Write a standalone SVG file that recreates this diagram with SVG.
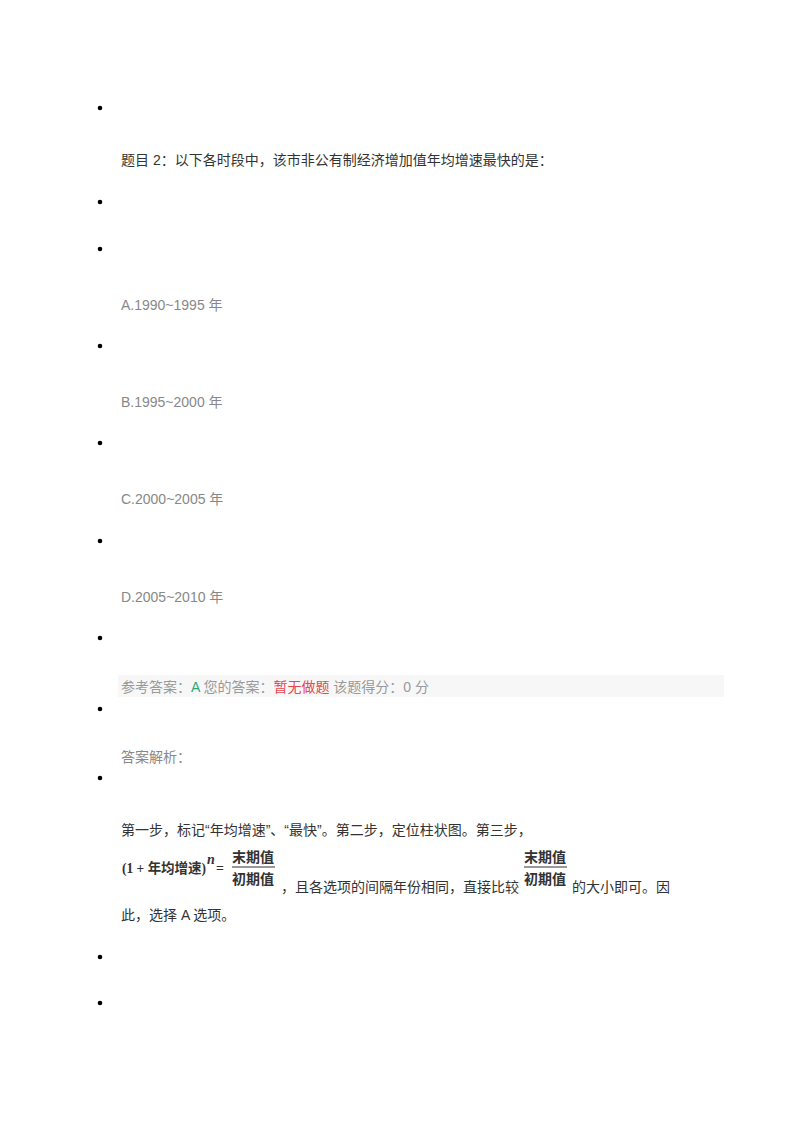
<svg xmlns="http://www.w3.org/2000/svg" width="800" height="1130" viewBox="0 0 800 1130">
<style>
.t{font-family:"Liberation Sans","Noto Sans CJK SC",sans-serif;font-size:14px;fill:#333}
.g{fill:#888}
.f{font-family:"Liberation Serif","Noto Sans CJK SC",serif;font-size:14px;fill:#333;font-weight:bold}
</style>
<rect width="800" height="1130" fill="#fff"/>
<g fill="#000">
<circle cx="100" cy="108" r="2.3"/><circle cx="100" cy="202" r="2.3"/><circle cx="100" cy="249" r="2.3"/>
<circle cx="100" cy="346" r="2.3"/><circle cx="100" cy="443" r="2.3"/><circle cx="100" cy="541" r="2.3"/>
<circle cx="100" cy="638" r="2.3"/><circle cx="100" cy="709" r="2.3"/><circle cx="100" cy="778" r="2.3"/>
<circle cx="100" cy="957" r="2.3"/><circle cx="100" cy="1003" r="2.3"/>
</g>
<text class="t" x="121" y="165" fill="#444">题目 2：以下各时段中，该市非公有制经济增加值年均增速最快的是：</text>
<text class="t g" x="121" y="310">A.1990~1995 年</text>
<text class="t g" x="121" y="407">B.1995~2000 年</text>
<text class="t g" x="121" y="504">C.2000~2005 年</text>
<text class="t g" x="121" y="602">D.2005~2010 年</text>
<rect x="118" y="675" width="606" height="22" fill="#f7f7f7"/>
<text class="t" x="121" y="692"><tspan fill="#999">参考答案：</tspan><tspan fill="#2aa876">A</tspan><tspan fill="#999"> 您的答案：</tspan><tspan fill="#e5484d">暂无做题</tspan><tspan fill="#999">  该题得分：0 分</tspan></text>
<text class="t g" x="121" y="762">答案解析：</text>
<text class="t" x="121" y="835">第一步，标记“年均增速”、“最快”。第二步，定位柱状图。第三步，</text>
<text class="f" x="122" y="873" textLength="84" lengthAdjust="spacingAndGlyphs">(1 + 年均增速)</text>
<text class="f" x="207" y="864" font-size="8" font-style="italic">n</text>
<text class="f" x="216" y="873">=</text>
<text class="f" x="232" y="862" font-size="13">末期值</text>
<line x1="232" y1="867" x2="275" y2="867" stroke="#333" stroke-width="1"/>
<text class="f" x="232" y="884" font-size="13">初期值</text>
<text class="t" x="281" y="892">，且各选项的间隔年份相同，直接比较</text>
<text class="f" x="524" y="862" font-size="13">末期值</text>
<line x1="524" y1="867" x2="567" y2="867" stroke="#333" stroke-width="1"/>
<text class="f" x="524" y="884" font-size="13">初期值</text>
<text class="t" x="572" y="892">的大小即可。因</text>
<text class="t" x="121" y="920">此，选择 A 选项。</text>
</svg>
